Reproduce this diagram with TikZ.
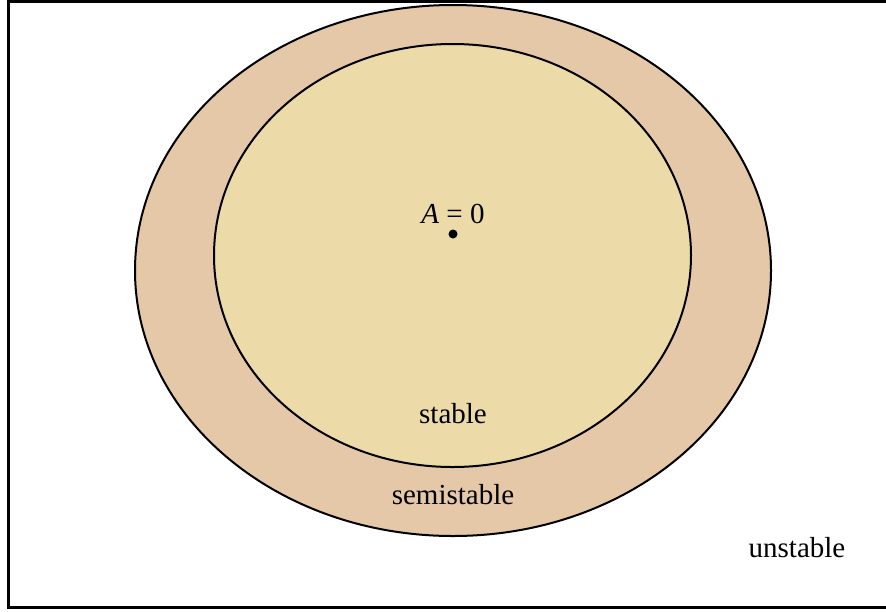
\documentclass[tikz,border=0pt]{standalone}
\usepackage{fontspec}
\setmainfont{Liberation Serif}
\definecolor{outerfill}{RGB}{228,200,168}
\definecolor{innerfill}{RGB}{236,219,168}
\tikzset{
  region/.style={draw=black, line width=2pt},
  lbl/.style={inner sep=0pt, font=\fontsize{29}{34}\selectfont},
}
\begin{document}
\begin{tikzpicture}[x=1pt,y=-1pt]
\useasboundingbox (0,0) rectangle (886,611);
\draw[line width=2.5pt] (886,1.5) -- (8.5,1.5) -- (8.5,607.5) -- (886,607.5);
\filldraw[region, fill=outerfill] (453,270.5) ellipse [x radius=318, y radius=265.5];
\filldraw[region, fill=innerfill] (452.5,255.5) ellipse [x radius=238.5, y radius=211.5];
\fill (453,234) circle [radius=4.5];
\node[lbl] (zero) at (453,214) {\textit{A} = 0};
\node[lbl] (stable) at (453,414) {stable};
\node[lbl] (semi) at (453,495) {semistable};
\node[lbl] (unstable) at (797,548) {unstable};
\end{tikzpicture}
\end{document}
